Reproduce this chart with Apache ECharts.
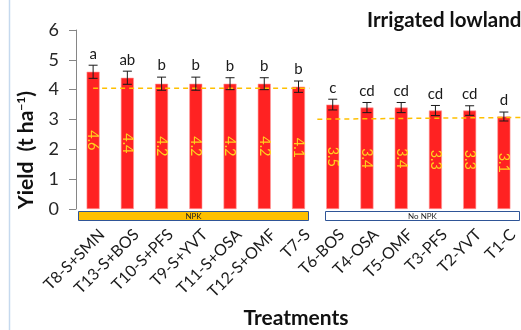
<!DOCTYPE html>
<html>
<head>
<meta charset="utf-8">
<script src="https://cdn.jsdelivr.net/npm/echarts@6/dist/echarts.min.js"></script>
<style>
  html, body { margin: 0; padding: 0; background: #fff; }
  #chart { width: 521px; height: 330px; }
</style>
</head>
<body>
<div id="chart"></div>
<script>
// Treatments and grain yield (t/ha) with standard errors and mean-separation letters
const treatments = ['T8-S+SMN', 'T13-S+BOS', 'T10-S+PFS', 'T9-S+YVT', 'T11-S+OSA', 'T12-S+OMF', 'T7-S',
                    'T6-BOS', 'T4-OSA', 'T5-OMF', 'T3-PFS', 'T2-YVT', 'T1-C'];
const yields = [4.6, 4.4, 4.2, 4.2, 4.2, 4.2, 4.1, 3.5, 3.4, 3.4, 3.3, 3.3, 3.1];
const stdErrors = [0.22, 0.22, 0.22, 0.22, 0.2, 0.2, 0.19, 0.18, 0.17, 0.17, 0.17, 0.16, 0.15];
const letters = ['a', 'ab', 'b', 'b', 'b', 'b', 'b', 'c', 'cd', 'cd', 'cd', 'cd', 'd'];
const yTicks = [0, 1, 2, 3, 4, 5, 6];

// Group reference lines: [x on 0..13 scale, yield]
const npkLine = [[0.5, 4.05], [6.82, 4.05]];
const noNpkLine = [[7.05, 3.01], [13, 3.07]];

const chart = echarts.init(document.getElementById('chart'), null, { renderer: 'canvas' });
const fontFam = 'Lato, "Open Sans", sans-serif';

const option = {
  animation: false,
  backgroundColor: '#ffffff',
  grid: { left: 76, top: 30, width: 446, height: 179, containLabel: false },
  xAxis: [
    {
      type: 'category',
      data: treatments,
      boundaryGap: true,
      axisLine: { show: false },
      axisTick: { show: false },
      axisLabel: { show: false }
    },
    { type: 'value', min: 0, max: 13, show: false }
  ],
  yAxis: {
    type: 'value',
    min: yTicks[0],
    max: yTicks[yTicks.length - 1],
    interval: 1,
    splitLine: { show: false },
    axisLine: { show: true, lineStyle: { color: '#868686', width: 1 } },
    axisTick: { show: true, length: 7, lineStyle: { color: '#868686' } },
    axisLabel: { fontSize: 18, color: '#262626', margin: 17, fontFamily: fontFam }
  },
  series: [
    {
      type: 'bar',
      data: yields,
      barWidth: 13,
      itemStyle: { color: '#FF2222', borderColor: '#FF9a9a', borderWidth: 0.6 },
      label: {
        show: true,
        position: 'inside',
        rotate: -90,
        color: '#FFD21F',
        fontSize: 14.5,
        fontFamily: fontFam,
        formatter: p => p.value.toFixed(1)
      },
      z: 2
    },
    {
      type: 'line',
      xAxisIndex: 1,
      data: npkLine,
      symbol: 'none',
      lineStyle: { color: '#FFC000', width: 1.5, type: [5, 4] },
      z: 3
    },
    {
      type: 'line',
      xAxisIndex: 1,
      data: noNpkLine,
      symbol: 'none',
      lineStyle: { color: '#FFC000', width: 1.5, type: [5, 4] },
      z: 3
    },
    {
      // error bars, significance letters and slanted treatment names
      type: 'custom',
      clip: false,
      data: yields.map((v, i) => [i, v, stdErrors[i]]),
      renderItem: function (params, api) {
        const i = api.value(0), v = api.value(1), e = api.value(2);
        const top = api.coord([i, v + e]);
        const bot = api.coord([i, v - e]);
        const base = api.coord([i, 0]);
        const cap = 4.5;
        const ls = { stroke: '#1a1a1a', lineWidth: 1 };
        return {
          type: 'group',
          children: [
            { type: 'line', shape: { x1: top[0], y1: top[1], x2: bot[0], y2: bot[1] }, style: ls },
            { type: 'line', shape: { x1: top[0] - cap, y1: top[1], x2: top[0] + cap, y2: top[1] }, style: ls },
            { type: 'line', shape: { x1: bot[0] - cap, y1: bot[1], x2: bot[0] + cap, y2: bot[1] }, style: ls },
            {
              type: 'text',
              style: {
                text: letters[params.dataIndex],
                x: top[0], y: top[1] - 4,
                align: 'center', verticalAlign: 'bottom',
                fontSize: 15, fill: '#1a1a1a', fontFamily: fontFam
              }
            },
            {
              type: 'text',
              x: base[0] + 9, y: base[1] + 23,
              rotation: Math.PI / 4,
              style: {
                text: treatments[params.dataIndex],
                x: 0, y: 0,
                align: 'right', verticalAlign: 'middle',
                fontSize: 16, fill: '#1a1a1a', fontFamily: fontFam
              }
            }
          ]
        };
      },
      z: 4
    }
  ],
  graphic: [
    { type: 'line', shape: { x1: 9.5, y1: 0, x2: 9.5, y2: 330 }, style: { stroke: '#C5D9EE', lineWidth: 1.5 } },
    {
      type: 'text', x: 367, y: 20,
      style: { text: 'Irrigated lowland', verticalAlign: 'middle', fontSize: 20.5, fontWeight: 'bold', fill: '#111', fontFamily: fontFam }
    },
    {
      type: 'text', x: 26, y: 150, rotation: Math.PI / 2,
      style: {
        text: '{a|Yield  (t ha}{s|−1}{a|)}',
        align: 'center', verticalAlign: 'middle',
        rich: {
          a: { fontSize: 21, fontWeight: 'bold', fill: '#111', fontFamily: fontFam },
          s: { fontSize: 12, fontWeight: 'bold', fill: '#111', fontFamily: fontFam, verticalAlign: 'top', padding: [0, 0, 9, 0] }
        }
      }
    },
    {
      type: 'rect', shape: { x: 78.5, y: 211.5, width: 230, height: 9 },
      style: { fill: '#FFC000', stroke: '#2F5597', lineWidth: 1 }
    },
    {
      type: 'text', x: 193.5, y: 216.5,
      style: { text: 'NPK', align: 'center', verticalAlign: 'middle', fontSize: 8, fill: '#222', fontFamily: fontFam }
    },
    {
      type: 'rect', shape: { x: 325.5, y: 211.5, width: 194, height: 9 },
      style: { fill: '#ffffff', stroke: '#2F5597', lineWidth: 1 }
    },
    {
      type: 'text', x: 422.5, y: 216.5,
      style: { text: 'No NPK', align: 'center', verticalAlign: 'middle', fontSize: 8, fill: '#222', fontFamily: fontFam }
    },
    {
      type: 'text', x: 296, y: 318,
      style: { text: 'Treatments', align: 'center', verticalAlign: 'middle', fontSize: 21, fontWeight: 'bold', fill: '#111', fontFamily: fontFam }
    }
  ]
};

chart.setOption(option);
</script>
</body>
</html>
